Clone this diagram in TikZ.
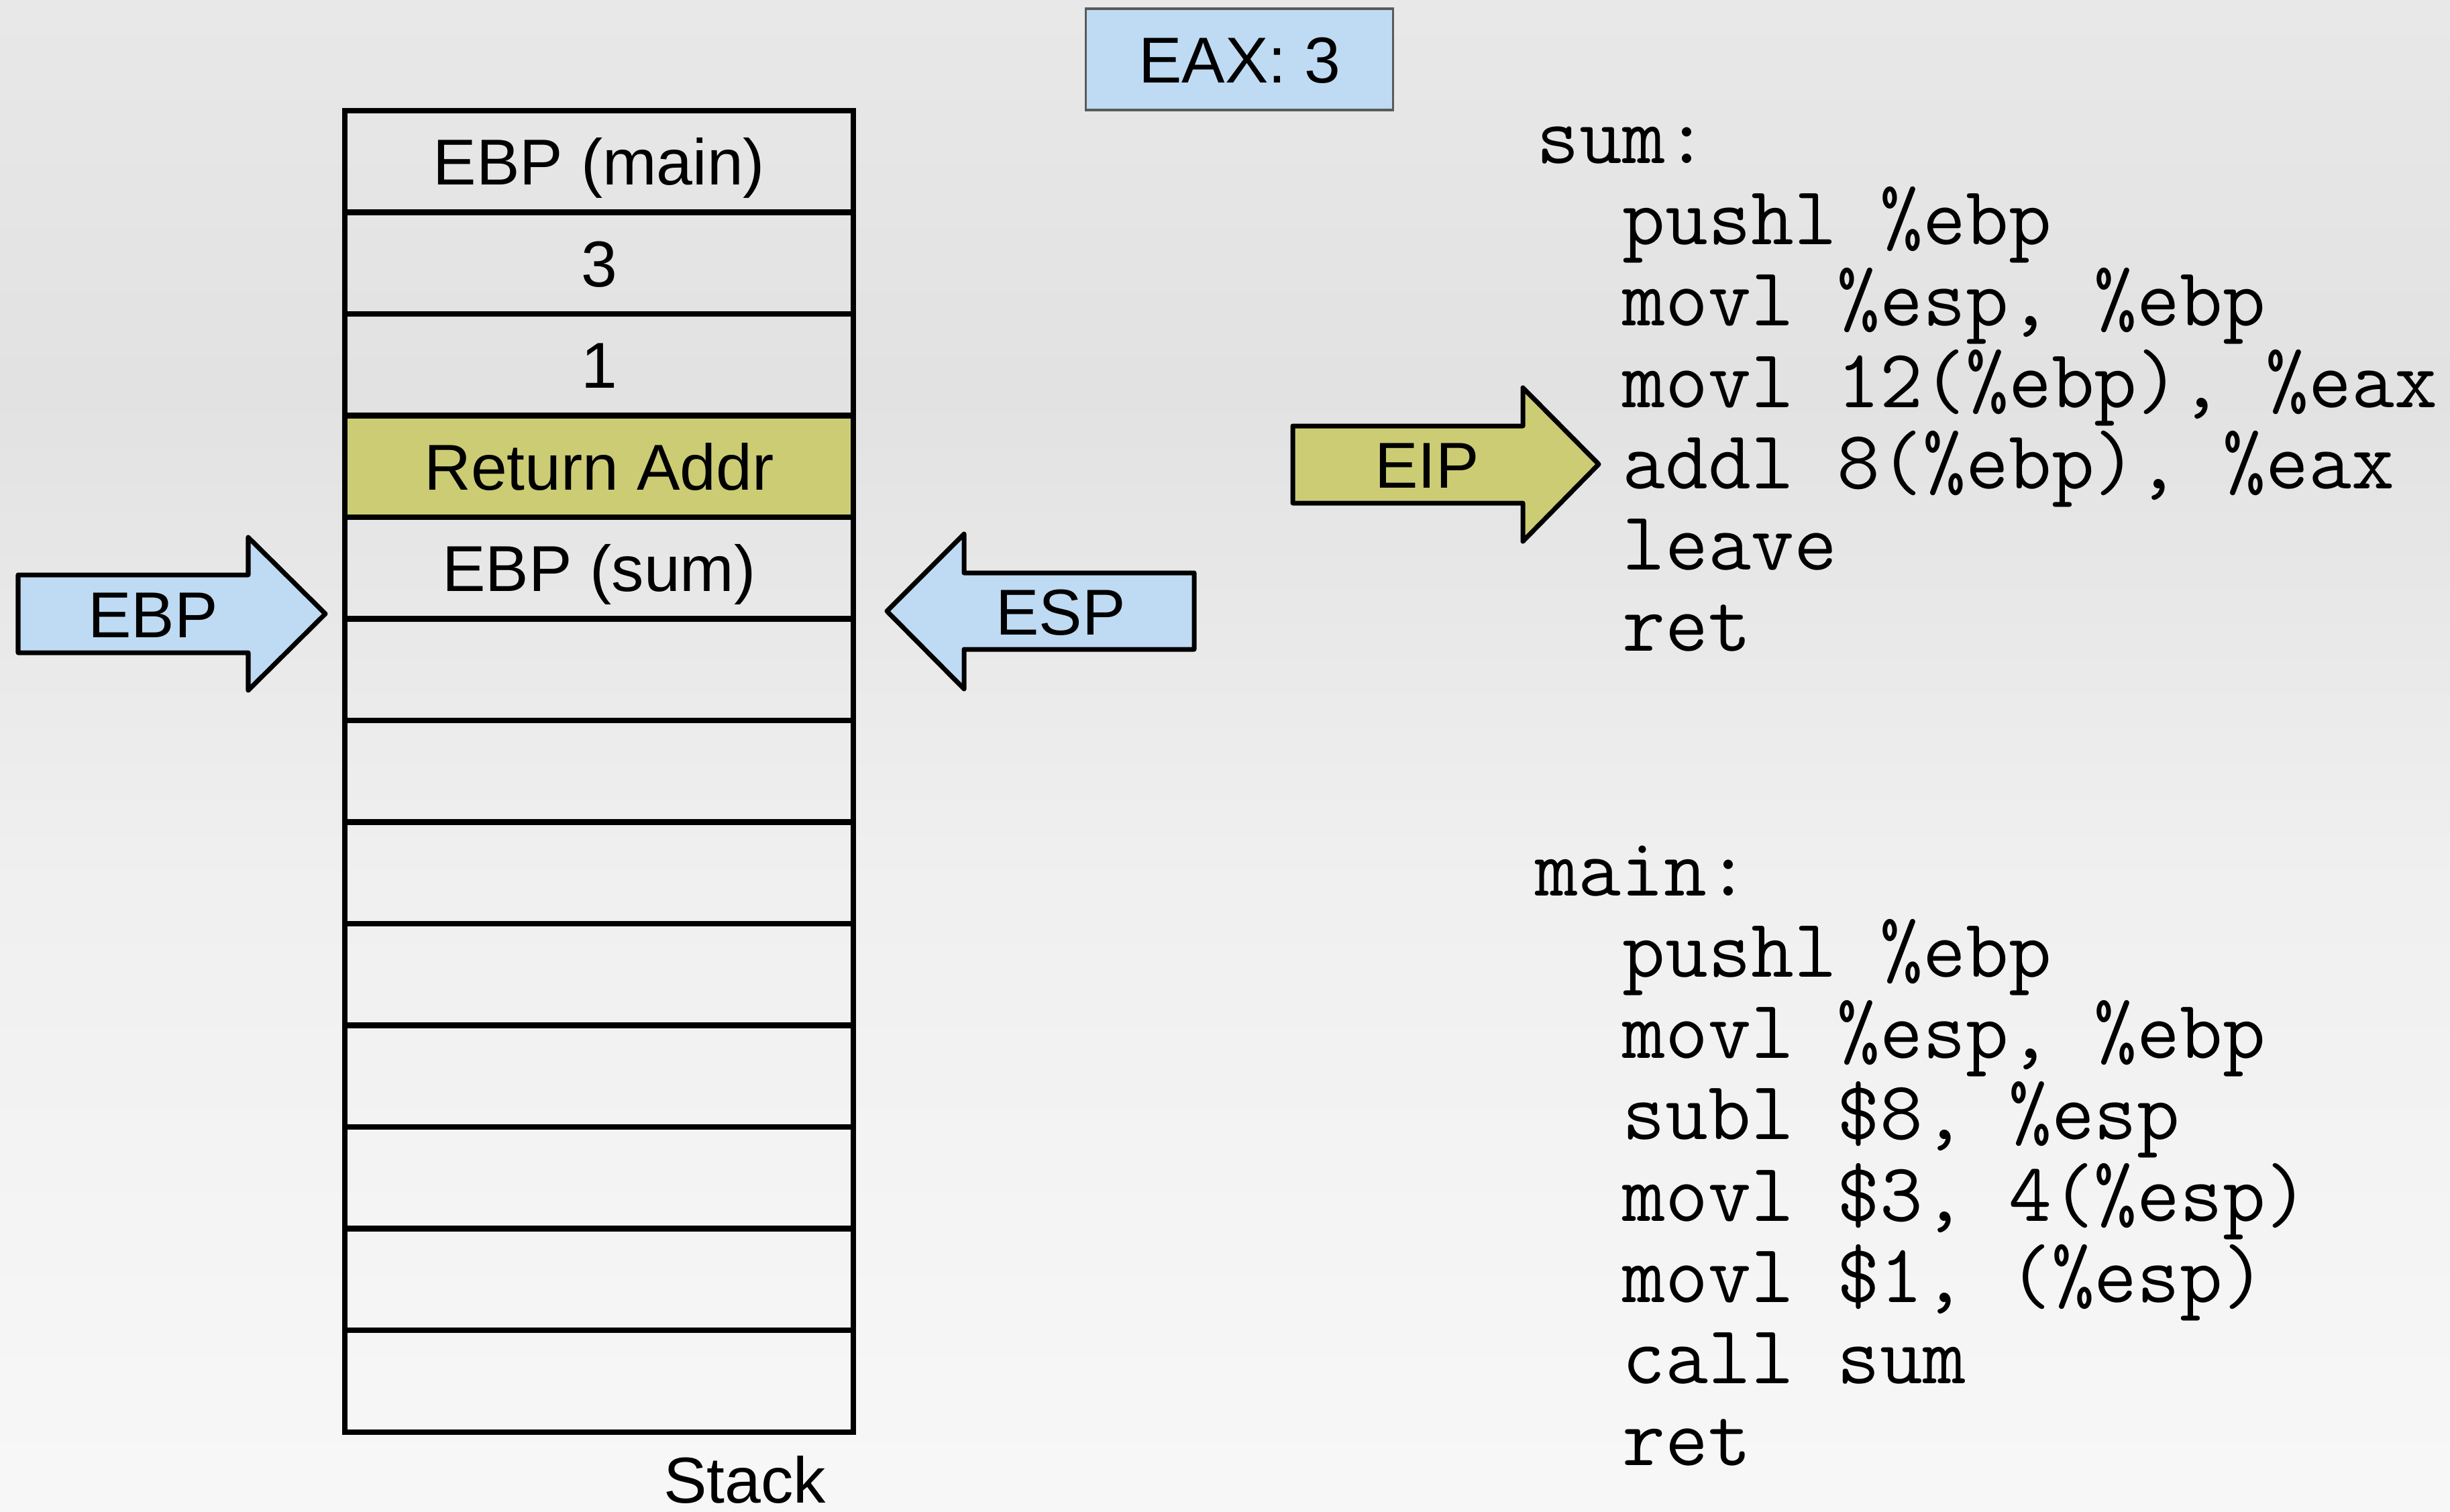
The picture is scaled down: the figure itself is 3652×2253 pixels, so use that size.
\documentclass[tikz,border=0pt]{standalone}
\usepackage{fontspec}
\setmainfont{Liberation Sans}
\usetikzlibrary{positioning}
\definecolor{regblue}{RGB}{191,219,243}
\definecolor{retolive}{RGB}{204,204,116}
\definecolor{eaxline}{RGB}{90,90,90}
\pgfdeclareverticalshading{slidebg}{100bp}{rgb(0bp)=(0.97,0.97,0.97); rgb(25bp)=(0.97,0.97,0.97); rgb(46bp)=(0.94,0.94,0.94); rgb(62bp)=(0.886,0.886,0.886); rgb(75bp)=(0.91,0.91,0.91); rgb(100bp)=(0.91,0.91,0.91)}
\tikzset{
    cell/.style={draw, line width=2.3pt, minimum width=7.58cm, minimum height=1.515cm, inner sep=0pt},
    lbl/.style={font=\fontsize{27.5}{33}\selectfont, text height=20pt, text depth=0pt, inner sep=0pt},
    code/.style={font=\ttfamily\fontsize{35.3}{40}\selectfont, anchor=base west, inner sep=0pt},
    regarrow/.style={draw, line width=2pt, line join=round, fill=regblue}
}

\begin{document}
\begin{tikzpicture}[x=0.01cm, y=-0.01cm]
    \useasboundingbox (0,0) rectangle (3652,2253);
    \shade[shading=slidebg] (0,0) rectangle (3652,2253);
    % register EAX
    \node[lbl, draw=eaxline, fill=regblue, line width=0.9pt, minimum width=4.57cm, minimum height=1.51cm] (eax) at (1847.5,88.5) {EAX: 3};
    % stack
    \fill[retolive] (514,619.5) rectangle (1272,771);
    \foreach \i in {0,...,12} {
        \node[cell] (c\i) at (893,{165+151.5*(\i+0.5)}) {};
    }
    \node[lbl] (t0) at (c0) {EBP (main)};
    \node[lbl] (t1) at (c1) {3};
    \node[lbl] (t2) at (c2) {1};
    \node[lbl] (t3) at (c3) {Return Addr};
    \node[lbl] (t4) at (c4) {EBP (sum)};
    \node[lbl, anchor=base] (stacklbl) at (1110,2240) {Stack};
    % pointer arrows
    \draw[regarrow] (27,857) -- (370,857) -- (370,801) -- (485,915) -- (370,1029) -- (370,973) -- (27,973) -- cycle;
    \node[lbl] (ebp) at (228,915) {EBP};
    \draw[regarrow] (1780,854) -- (1437,854) -- (1437,796) -- (1322,911) -- (1437,1027) -- (1437,968) -- (1780,968) -- cycle;
    \node[lbl] (esp) at (1581,911) {ESP};
    \draw[regarrow, fill=retolive] (1927,635) -- (2270,635) -- (2270,578) -- (2383,692) -- (2270,807) -- (2270,750) -- (1927,750) -- cycle;
    \node[lbl] (eip) at (2127,692) {EIP};
    % code of sum
    \node[code] (s0) at (2290,243) {sum:};
    \node[code] (s1) at (2418,364) {pushl \%ebp};
    \node[code] (s2) at (2418,485) {movl \%esp, \%ebp};
    \node[code] (s3) at (2418,607) {movl 12(\%ebp), \%eax};
    \node[code] (s4) at (2418,728) {addl 8(\%ebp), \%eax};
    \node[code] (s5) at (2418,849) {leave};
    \node[code] (s6) at (2418,970) {ret};
    % code of main
    \node[code] (m0) at (2288,1335) {main:};
    \node[code] (m1) at (2418,1456) {pushl \%ebp};
    \node[code] (m2) at (2418,1577) {movl \%esp, \%ebp};
    \node[code] (m3) at (2418,1698) {subl \$8, \%esp};
    \node[code] (m4) at (2418,1820) {movl \$3, 4(\%esp)};
    \node[code] (m5) at (2418,1941) {movl \$1, (\%esp)};
    \node[code] (m6) at (2418,2062) {call sum};
    \node[code] (m7) at (2418,2184) {ret};
\end{tikzpicture}
\end{document}
